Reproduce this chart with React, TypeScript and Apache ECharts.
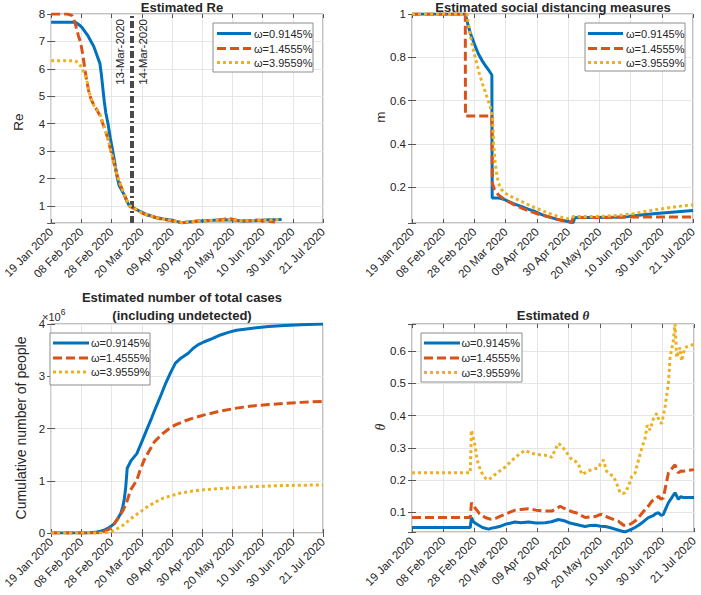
import React, { useEffect, useRef } from 'react';
import * as echarts from 'echarts';

// ---------- data ----------
const DATE_LABELS = ['19 Jan 2020', '08 Feb 2020', '28 Feb 2020', '20 Mar 2020', '09 Apr 2020', '30 Apr 2020', '20 May 2020', '10 Jun 2020', '30 Jun 2020', '21 Jul 2020'];
const SERIES_NAMES = ['ω=0.9145%', 'ω=1.4555%', 'ω=3.9559%'];
const EVENT_DAYS = [54, 55]; // days after 19 Jan 2020
const EVENT_LABELS = ['13-Mar-2020', '14-Mar-2020'];

// x = days after 19 Jan 2020
const reBlue = [[0,7.7],[15,7.7],[17,7.68],[19,7.6],[21,7.5],[23,7.35],[25,7.2],[27,7.0],[29,6.8],[31,6.5],[33,6.2],[34,5.8],[35,5.3],[36,4.8],[37,4.4],[38.5,4.0],[40,3.5],[41.7,3.0],[43,2.6],[44.5,2.1],[46,1.75],[48,1.55],[50,1.35],[51.5,1.15],[53,1.0],[55,0.95],[57.5,0.88],[60.2,0.8],[65,0.68],[71,0.58],[76,0.53],[82,0.48],[85.5,0.43],[88.5,0.39],[93,0.42],[99,0.45],[105,0.46],[110,0.48],[115,0.49],[121,0.5],[126,0.47],[130,0.45],[136,0.46],[142,0.48],[148,0.5],[152,0.5],[156,0.51]];
const reOrange = [[0,8.0],[11,8.0],[14,7.95],[15.5,7.8],[17,7.5],[18.5,7.2],[20,6.95],[21.5,6.5],[22.8,6.0],[24,5.6],[25.4,5.2],[27,4.9],[28.7,4.7],[31,4.5],[33,4.3],[35,4.0],[37,3.7],[38.5,3.45],[40,3.1],[41.5,2.8],[42.8,2.5],[44.5,2.15],[46.7,1.8],[48.5,1.55],[50,1.35],[51.5,1.15],[53,1.0],[55,0.94],[57.5,0.86],[60.2,0.77],[65,0.67],[71,0.57],[76,0.51],[82,0.46],[85.5,0.42],[88.5,0.39],[93,0.41],[99,0.44],[105,0.47],[110,0.47],[115,0.5],[118,0.53],[121,0.54],[124,0.5],[127,0.46],[130,0.45],[135,0.47],[139,0.49],[143,0.46],[147,0.44],[151.5,0.42]];
const reYellow = [[0,6.3],[15.5,6.3],[17,6.27],[19,6.2],[21,6.0],[23,5.8],[24.5,5.5],[26,5.1],[27.5,4.85],[29,4.65],[31,4.5],[33,4.35],[35,4.05],[37,3.72],[38.5,3.45],[40,3.1],[41.5,2.8],[43,2.5],[44.5,2.15],[46.5,1.82],[48.5,1.57],[50,1.37],[51.5,1.17],[53,1.02],[55,0.95],[57.5,0.87],[60.2,0.78],[65,0.68],[71,0.58],[76,0.52],[82,0.47],[85.5,0.43],[88.5,0.4],[93,0.42],[99,0.45],[105,0.46],[110,0.48],[115,0.48],[121,0.5],[126,0.48],[130,0.46],[136,0.47],[142,0.48],[148,0.49],[152,0.5],[156,0.52]];

const mBlue = [[0,1],[34.9,1],[36.5,0.955],[38.2,0.911],[40,0.878],[41.5,0.849],[43.5,0.815],[45.7,0.787],[48,0.762],[50.2,0.741],[52.3,0.718],[52.5,0.149],[56.6,0.149],[58.5,0.147],[61,0.141],[66,0.125],[71.9,0.11],[76,0.098],[80.6,0.087],[85,0.073],[90,0.061],[94.7,0.052],[100,0.044],[105.6,0.036],[106.5,0.058],[110,0.059],[120,0.059],[130,0.06],[138,0.062],[150,0.071],[160,0.078],[172,0.085],[184,0.092]];
const mOrange = [[0,1],[34.9,1],[35,0.529],[52.3,0.529],[52.6,0.218],[54,0.19],[56.6,0.164],[60,0.146],[63.1,0.133],[67,0.118],[71.9,0.103],[76,0.091],[80.6,0.08],[85,0.07],[90.4,0.061],[95,0.051],[99.1,0.044],[104.5,0.036],[105.5,0.058],[110,0.059],[120,0.059],[130,0.06],[145,0.062],[160,0.062],[184,0.062]];
const mYellow = [[0,1],[35.9,1],[37.5,0.93],[39.1,0.865],[40.8,0.815],[42.4,0.772],[44,0.728],[45.7,0.688],[47.4,0.652],[49,0.618],[51.2,0.572],[52.8,0.511],[53.4,0.403],[54.5,0.311],[55.5,0.26],[56.6,0.218],[58.5,0.19],[61,0.172],[66,0.152],[71.9,0.133],[77.3,0.114],[80.6,0.105],[85,0.092],[90.4,0.077],[96,0.064],[101.3,0.054],[103.5,0.058],[106,0.064],[115,0.064],[125,0.065],[135,0.069],[144.8,0.077],[155,0.09],[166.6,0.103],[176,0.112],[184,0.118]];

// millions of people
const casesBlue = [[0,0],[25,0],[28,0.01],[31,0.02],[34,0.04],[36.3,0.06],[39,0.1],[41,0.14],[42.8,0.18],[44.5,0.25],[46,0.32],[47.2,0.38],[48.5,0.5],[49.5,0.65],[50.4,0.85],[51.5,1.24],[54,1.38],[58,1.52],[61,1.72],[64.6,1.97],[68,2.2],[71.1,2.42],[74.5,2.65],[77.6,2.87],[81,3.08],[84.1,3.25],[88,3.35],[92.8,3.44],[96,3.53],[99.3,3.6],[103.7,3.66],[109,3.72],[114.6,3.79],[120,3.84],[125.4,3.88],[136.3,3.92],[147.2,3.95],[158,3.97],[169,3.985],[184,4.0]];
const casesOrange = [[0,0],[30,0],[33,0.01],[36,0.03],[39,0.07],[42,0.15],[46,0.31],[49,0.45],[51.5,0.62],[53.7,0.82],[58,1.01],[60.2,1.2],[63,1.4],[66.7,1.59],[70,1.75],[75.4,1.9],[80,2.0],[84.1,2.07],[90,2.14],[95,2.19],[103.7,2.26],[114,2.33],[125.4,2.39],[136,2.43],[147.2,2.46],[158,2.48],[169,2.5],[184,2.52]];
const casesYellow = [[0,0],[35,0],[38,0.01],[41,0.03],[44,0.07],[47.2,0.12],[50,0.18],[53,0.25],[56,0.32],[60.2,0.4],[65,0.5],[71.1,0.6],[76,0.67],[82,0.72],[87,0.76],[92.8,0.79],[103.7,0.83],[114,0.85],[125.4,0.87],[136,0.885],[147.2,0.9],[160,0.91],[170,0.915],[184,0.92]];

const thetaBlue = [[0,0.052],[38,0.052],[38.8,0.083],[40,0.07],[42.4,0.062],[46,0.052],[50,0.047],[52,0.05],[54.4,0.052],[57,0.055],[60.8,0.062],[64,0.065],[67.3,0.069],[71,0.067],[76,0.069],[81,0.066],[86.9,0.067],[91,0.07],[95.6,0.077],[99.9,0.072],[103,0.066],[106.5,0.062],[110,0.058],[113,0.055],[116,0.058],[119.5,0.059],[123,0.056],[126,0.055],[129,0.052],[132.5,0.047],[136,0.042],[139,0.038],[141,0.042],[143.4,0.047],[145.5,0.052],[147.8,0.059],[151,0.07],[154.2,0.083],[157,0.088],[159,0.095],[160.8,0.098],[162.5,0.09],[164,0.093],[165.5,0.11],[167.3,0.129],[169.5,0.145],[171.6,0.16],[173.8,0.14],[175.5,0.148],[177,0.145],[180,0.145],[184,0.145]];
const thetaOrange = [[0,0.083],[38,0.083],[38.8,0.129],[41,0.114],[44,0.095],[47.8,0.083],[51,0.078],[54.4,0.08],[57,0.086],[60.8,0.093],[64,0.1],[67.3,0.106],[71,0.108],[76,0.11],[81,0.106],[86.9,0.103],[91.2,0.103],[94,0.11],[96.7,0.118],[99,0.112],[102,0.106],[105,0.1],[108.5,0.096],[111,0.088],[113,0.083],[116,0.085],[119.5,0.086],[121.5,0.09],[123.8,0.093],[126,0.088],[128.1,0.083],[131,0.078],[134.6,0.072],[138,0.059],[141.2,0.059],[143.4,0.065],[145.6,0.072],[149,0.09],[152.1,0.108],[154.5,0.12],[156.5,0.134],[158.5,0.14],[160.8,0.149],[162.5,0.14],[164,0.144],[165.5,0.18],[167.3,0.222],[169.5,0.235],[171.6,0.247],[173.8,0.222],[175.5,0.228],[177,0.227],[180,0.23],[184,0.232]];
const thetaYellow = [[0,0.222],[38,0.222],[38.8,0.355],[40,0.33],[41.3,0.304],[42.4,0.263],[44,0.24],[45.6,0.222],[48,0.205],[50,0.2],[52.5,0.21],[55.4,0.222],[58,0.23],[60.8,0.24],[64,0.255],[67.3,0.27],[70,0.28],[73.8,0.292],[77,0.285],[80.3,0.28],[83.5,0.278],[86.9,0.277],[89,0.275],[91.2,0.27],[93.5,0.295],[95.6,0.314],[97.8,0.305],[99.9,0.292],[102,0.278],[104.3,0.262],[106.5,0.258],[108.6,0.25],[110.8,0.217],[113,0.222],[115,0.228],[117.3,0.232],[119.5,0.235],[121.6,0.237],[123,0.25],[124.9,0.262],[127,0.227],[129,0.218],[131.4,0.211],[133.5,0.19],[135.8,0.16],[137.5,0.158],[139,0.16],[141.2,0.18],[143.4,0.211],[145.6,0.222],[147.8,0.262],[150,0.3],[152.1,0.33],[153.5,0.37],[155.3,0.355],[157.5,0.39],[159.7,0.407],[161.5,0.38],[163,0.376],[165.1,0.427],[167.3,0.5],[168.4,0.581],[170.5,0.633],[171.6,0.685],[172.7,0.581],[174.9,0.612],[175.9,0.57],[178.1,0.612],[180,0.615],[184,0.622]];

// ---------- styling ----------
const FONT = '"Liberation Sans", Arial, Helvetica, sans-serif';
const TXT = '#262626';
const COLORS = ['#0072BD', '#D95319', '#EDB120'];
const DASHES: any[] = ['solid', [9, 4], [3, 3]];
const LW = 3;
const DAY_SPAN = 184;
const TICK_STEP = 20.4445; // 184/9 days, nudged up so the last tick lands on max

const GRIDS = [
  { left: 41, top: 14, width: 282, height: 209 },
  { left: 412, top: 14, width: 281, height: 209 },
  { left: 41, top: 324, width: 282, height: 209 },
  { left: 412, top: 324, width: 282, height: 208 },
];

const TICK = { show: true, inside: true, length: 4, lineStyle: { color: '#555' } };

function xAxis(gridIndex: number) {
  return {
    type: 'value', gridIndex, min: 0, max: DAY_SPAN, interval: TICK_STEP,
    axisLine: { show: false },
    axisTick: TICK,
    axisLabel: {
      rotate: 45, margin: 7, fontSize: 11.5, color: TXT, fontFamily: FONT,
      formatter: (v: number) => DATE_LABELS[Math.round(v / (DAY_SPAN / 9))] ?? '',
    },
    splitLine: { show: true, lineStyle: { color: '#e6e6e6', width: 1 } },
  };
}
function xAxisTop(gridIndex: number) {
  return {
    type: 'value', gridIndex, position: 'top', min: 0, max: DAY_SPAN, interval: TICK_STEP,
    axisLine: { show: false }, axisTick: TICK, axisLabel: { show: false }, splitLine: { show: false },
  };
}

function yAxis(gridIndex: number, min: number, max: number, extra: any, fmt: (v: number) => string) {
  return {
    type: 'value', gridIndex, min, max, ...extra,
    axisLine: { show: false },
    axisTick: TICK,
    axisLabel: { margin: 6, fontSize: 11.5, color: TXT, fontFamily: FONT, formatter: fmt },
    splitLine: { show: true, lineStyle: { color: '#e6e6e6', width: 1 } },
  };
}
function yAxisRight(gridIndex: number, min: number, max: number, extra: any) {
  return {
    type: 'value', gridIndex, position: 'right', min, max, ...extra,
    axisLine: { show: false }, axisTick: TICK, axisLabel: { show: false }, splitLine: { show: false },
  };
}

const near = (v: number, step: number) => Math.abs(v / step - Math.round(v / step)) < 1e-6;

function line(idx: number, data: number[][], k: number, extra: any = {}) {
  return {
    type: 'line', name: SERIES_NAMES[k], xAxisIndex: idx, yAxisIndex: idx,
    data, showSymbol: false, symbol: 'none', clip: true, silent: true,
    lineStyle: { color: COLORS[k], width: LW, type: DASHES[k] },
    z: 3 + k,
    ...extra,
  };
}

function legendBox(x: number, y: number, w: number, h: number, rows: number[], lx1: number, lx2: number, tx: number) {
  const els: any[] = [
    { type: 'rect', shape: { x, y, width: w, height: h }, style: { fill: '#fff', stroke: '#8c8c8c', lineWidth: 1 }, z: 100 },
  ];
  rows.forEach((ry, k) => {
    els.push({ type: 'line', shape: { x1: lx1, y1: ry, x2: lx2, y2: ry }, style: { stroke: COLORS[k], lineWidth: LW, lineDash: k === 0 ? null : DASHES[k] }, z: 101 });
    els.push({ type: 'text', x: tx, y: ry, style: { text: SERIES_NAMES[k], font: `11px ${FONT}`, fill: TXT, align: 'left', verticalAlign: 'middle' }, z: 101 });
  });
  return els;
}

function txt(x: number, y: number, text: string, font: string, rot = 0, extra: any = {}) {
  return { type: 'text', x, y, rotation: rot, style: { text, font, fill: TXT, align: 'center', verticalAlign: 'middle', ...extra }, z: 100 };
}

const Y_SPECS: [number, number, any][] = [
  [0.38, 8, { splitNumber: 8 }],
  [0.034, 1, { splitNumber: 5 }],
  [0, 4, { interval: 1 }],
  [0.038, 0.685, { splitNumber: 6 }],
];

export default function App() {
  const ref = useRef<HTMLDivElement>(null);
  useEffect(() => {
    if (!ref.current) return;
    const chart = echarts.init(ref.current, undefined, { renderer: 'svg' });
    const titleFont = `bold 13px ${FONT}`;
    const option: any = {
      animation: false,
      backgroundColor: '#ffffff',
      grid: GRIDS.map((g) => ({ ...g, show: true, borderColor: '#808080', borderWidth: 1, backgroundColor: '#fff', containLabel: false })),
      xAxis: [...[0, 1, 2, 3].map(xAxis), ...[0, 1, 2, 3].map(xAxisTop)],
      yAxis: [
        yAxis(0, Y_SPECS[0][0], Y_SPECS[0][1], Y_SPECS[0][2], (v) => (near(v, 1) && v >= 1 ? String(Math.round(v)) : '')),
        yAxis(1, Y_SPECS[1][0], Y_SPECS[1][1], Y_SPECS[1][2], (v) => (near(v, 0.2) && v >= 0.19 ? String(+v.toFixed(1)) : '')),
        yAxis(2, Y_SPECS[2][0], Y_SPECS[2][1], Y_SPECS[2][2], (v) => String(Math.round(v))),
        yAxis(3, Y_SPECS[3][0], Y_SPECS[3][1], Y_SPECS[3][2], (v) => (near(v, 0.1) && v >= 0.09 && v <= 0.61 ? v.toFixed(1) : '')),
        ...Y_SPECS.map((s, i) => yAxisRight(i, s[0], s[1], s[2])),
      ],
      series: [
        line(0, reBlue, 0, {
          markLine: {
            silent: true, symbol: ['none', 'none'], animation: false,
            lineStyle: { color: '#4a4a4a', width: 2, type: [7, 3, 2, 3] },
            label: { color: TXT, fontSize: 11.5, fontFamily: FONT, distance: 5 },
            data: [
              { xAxis: EVENT_DAYS[0], label: { formatter: EVENT_LABELS[0], position: 'insideEndTop' } },
              { xAxis: EVENT_DAYS[1], label: { formatter: EVENT_LABELS[1], position: 'insideEndBottom' } },
            ],
          },
        }),
        line(0, reOrange, 1),
        line(0, reYellow, 2),
        line(1, mBlue, 0), line(1, mOrange, 1), line(1, mYellow, 2),
        line(2, casesBlue, 0), line(2, casesOrange, 1), line(2, casesYellow, 2),
        line(3, thetaBlue, 0), line(3, thetaOrange, 1), line(3, thetaYellow, 2),
      ],
      graphic: [
        txt(182, 7, 'Estimated Re', titleFont),
        txt(553, 7, 'Estimated social distancing measures', titleFont),
        txt(182, 297, 'Estimated number of total cases', titleFont),
        txt(182, 315, '(including undetected)', titleFont),
        {
          type: 'text', x: 553, y: 315, z: 100,
          style: {
            text: '{b|Estimated }{t|θ}', align: 'center', verticalAlign: 'middle',
            rich: {
              b: { font: titleFont, fill: TXT },
              t: { font: `bold italic 13px "Liberation Serif", serif`, fill: TXT },
            },
          },
        },
        txt(18, 122, 'Re', `13.5px ${FONT}`, Math.PI / 2),
        txt(380, 117, 'm', `13.5px ${FONT}`, Math.PI / 2),
        txt(21, 428, 'Cumulative number of people', `14px ${FONT}`, Math.PI / 2),
        txt(380, 427, 'θ', `italic 14px "Liberation Serif", serif`, Math.PI / 2),
        {
          type: 'text', x: 42, y: 315, z: 100,
          style: {
            text: '{a|×10}{s|6}', align: 'left', verticalAlign: 'middle',
            rich: {
              a: { fontSize: 11, fontFamily: FONT, fill: TXT, lineHeight: 15, verticalAlign: 'bottom' },
              s: { fontSize: 8.5, fontFamily: FONT, fill: TXT, lineHeight: 15, verticalAlign: 'top' },
            },
          },
        },
        ...legendBox(213, 23, 100, 49, [33.5, 48.5, 62.5], 217, 251, 254),
        ...legendBox(585, 23, 100, 48, [33.5, 48.5, 62.5], 588, 623, 626),
        ...legendBox(50, 333, 100, 52, [343, 358, 372], 53, 89, 91),
        ...legendBox(421, 333, 101, 49, [343, 358, 372.5], 424, 460, 461.5),
      ],
    };
    chart.setOption(option);
    return () => chart.dispose();
  }, []);
  return <div ref={ref} style={{ position: 'fixed', left: 0, top: 0, width: 701, height: 595, background: '#fff' }} />;
}
